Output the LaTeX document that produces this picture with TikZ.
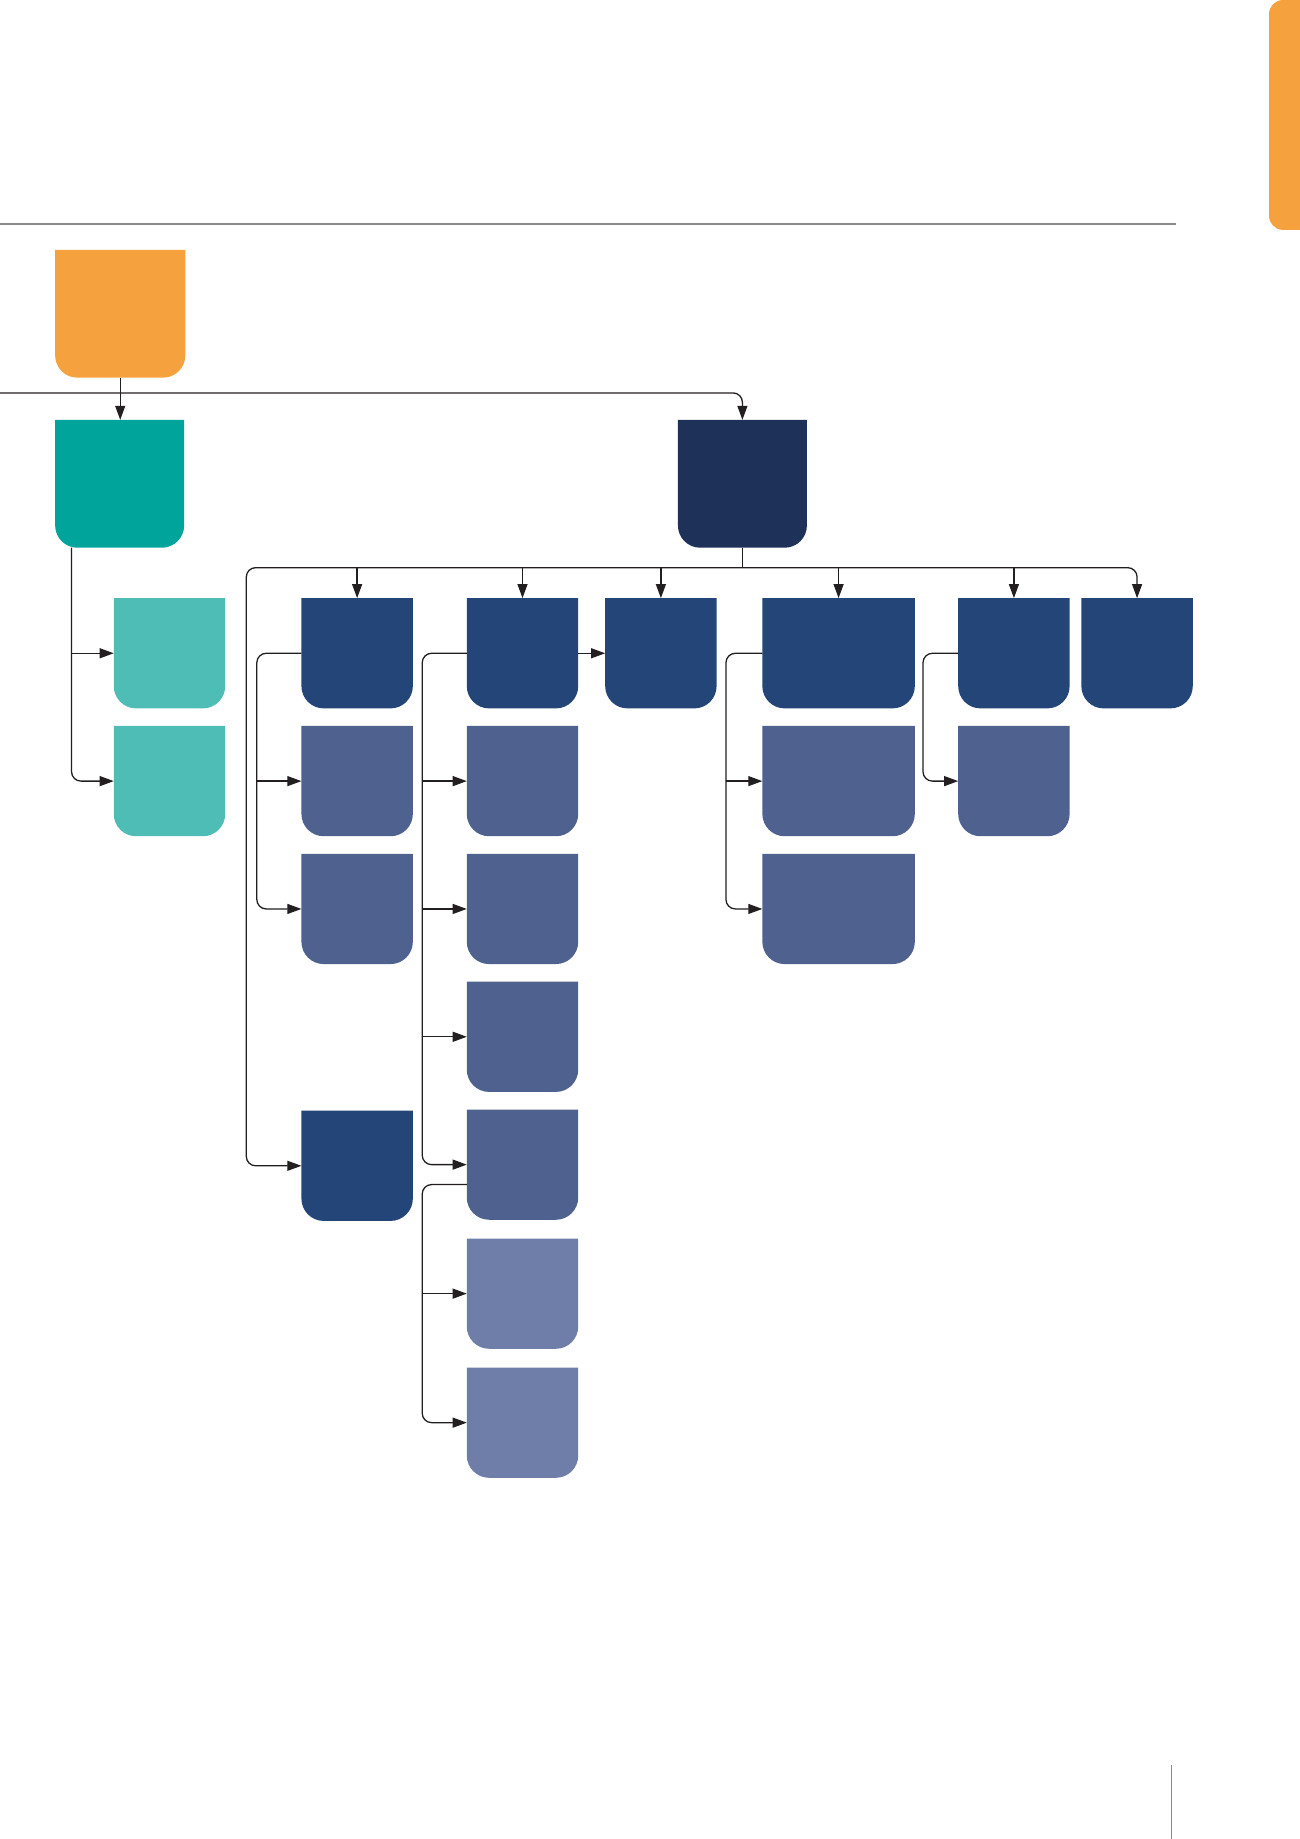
\documentclass[tikz,border=0pt]{standalone}
\usepackage{tikz}
\usetikzlibrary{arrows.meta,positioning,calc}
\definecolor{tabOrange}{HTML}{F5A13D}
\definecolor{headTeal}{HTML}{00A49B}
\definecolor{subTeal}{HTML}{4DBDB6}
\definecolor{headNavy}{HTML}{1E3158}
\definecolor{unitBlue}{HTML}{234577}
\definecolor{teamBlue}{HTML}{4F628F}
\definecolor{cellBlue}{HTML}{6E7EA8}
\definecolor{wire}{HTML}{231F20}
\definecolor{ruleGray}{HTML}{8A8A8A}

\begin{document}
\begin{tikzpicture}[x=1pt, y=-1pt,
    blk/.style={anchor=north west, inner sep=0pt, outer sep=0pt,
      minimum width=95pt, minimum height=94pt,
      path picture={\fill[#1] (path picture bounding box.north west)
        -- ([yshift=19pt]path picture bounding box.south west)
        arc[start angle=180, end angle=270, radius=19pt]
        -- ([xshift=-19pt]path picture bounding box.south east)
        arc[start angle=270, end angle=360, radius=19pt]
        -- (path picture bounding box.north east) -- cycle;}},
    link/.style={draw=wire, line width=1.1pt, rounded corners=8pt},
    arr/.style={link, -{Triangle[length=12pt, width=8.5pt]}},
  ]
  \useasboundingbox (0,0) rectangle (1108,1568);

  % Page furniture
  \draw[ruleGray, line width=1.2pt] (0,191) -- (1003,191);
  \fill[tabOrange, rounded corners=12pt] (1130,0) -- (1082,0) -- (1082,196) -- (1130,196) -- cycle;
  \draw[ruleGray, line width=1.2pt] (999,1505) -- (999,1568);

  % Top levels
  \node[blk=tabOrange, minimum width=111pt, minimum height=109pt] (top) at (47,213) {};
  \node[blk=headTeal, minimum width=110pt, minimum height=109pt] (teal) at (47,358) {};
  \node[blk=headNavy, minimum width=110pt, minimum height=109pt] (navy) at (578,358) {};

  % Teal branch
  \node[blk=subTeal] (tA) at (97,510) {};
  \node[blk=subTeal] (tB) at (97,619) {};

  % Navy branch, first row
  \node[blk=unitBlue] (c1) at (257,510) {};
  \node[blk=unitBlue] (c2) at (398,510) {};
  \node[blk=unitBlue] (c3) at (516,510) {};
  \node[blk=unitBlue, minimum width=130pt] (c4) at (650,510) {};
  \node[blk=unitBlue] (c5) at (817,510) {};
  \node[blk=unitBlue] (c6) at (922,510) {};
  \node[blk=unitBlue] (d) at (257,947) {};

  % Lower levels
  \node[blk=teamBlue] (c1a) at (257,619) {};
  \node[blk=teamBlue] (c1b) at (257,728) {};
  \node[blk=teamBlue] (c2a) at (398,619) {};
  \node[blk=teamBlue] (c2b) at (398,728) {};
  \node[blk=teamBlue] (c2c) at (398,837) {};
  \node[blk=teamBlue] (c2d) at (398,946) {};
  \node[blk=cellBlue] (c2e) at (398,1056) {};
  \node[blk=cellBlue] (c2f) at (398,1166) {};
  \node[blk=teamBlue, minimum width=130pt] (c4a) at (650,619) {};
  \node[blk=teamBlue, minimum width=130pt] (c4b) at (650,728) {};
  \node[blk=teamBlue] (c5a) at (817,619) {};

  % Connectors
  \coordinate (lftend) at (0,335);
  \coordinate (hub) at (633,484);
  \coordinate (lbus) at (210,484);
  \coordinate (tstem) at (61,467);

  \draw[arr] (top.south) -- (top.south |- teal.north);
  \draw[arr] (lftend) -| (navy);
  \draw[arr] (tstem) |- (tB);
  \draw[arr] (tstem |- tA) -- (tA);

  \draw[link] (navy) -- (hub);
  \draw[arr] (hub) -- (lbus) |- (d);
  \draw[arr] (hub) -| (c6);
  \foreach \n in {c1,c2,c3,c4,c5}
    \draw[arr] (hub -| \n) -- (\n);

  \draw[arr] (c1.west) -- ++(-38,0) |- (c1b);
  \draw[arr] ([xshift=-38pt]c1a.west) -- (c1a);

  \draw[arr] (c2) -- (c3);
  \draw[arr] (c2.west) -- ++(-38,0) |- (c2d);
  \foreach \n in {c2a,c2b,c2c}
    \draw[arr] ([xshift=-38pt]\n.west) -- (\n);

  \draw[arr] ([yshift=-17pt]c2d.west) -- ++(-38,0) |- (c2f);
  \draw[arr] ([xshift=-38pt]c2e.west) -- (c2e);

  \draw[arr] (c4.west) -- ++(-31,0) |- (c4b);
  \draw[arr] ([xshift=-31pt]c4a.west) -- (c4a);

  \draw[arr] (c5.west) -- ++(-30,0) |- (c5a);
\end{tikzpicture}
\end{document}
